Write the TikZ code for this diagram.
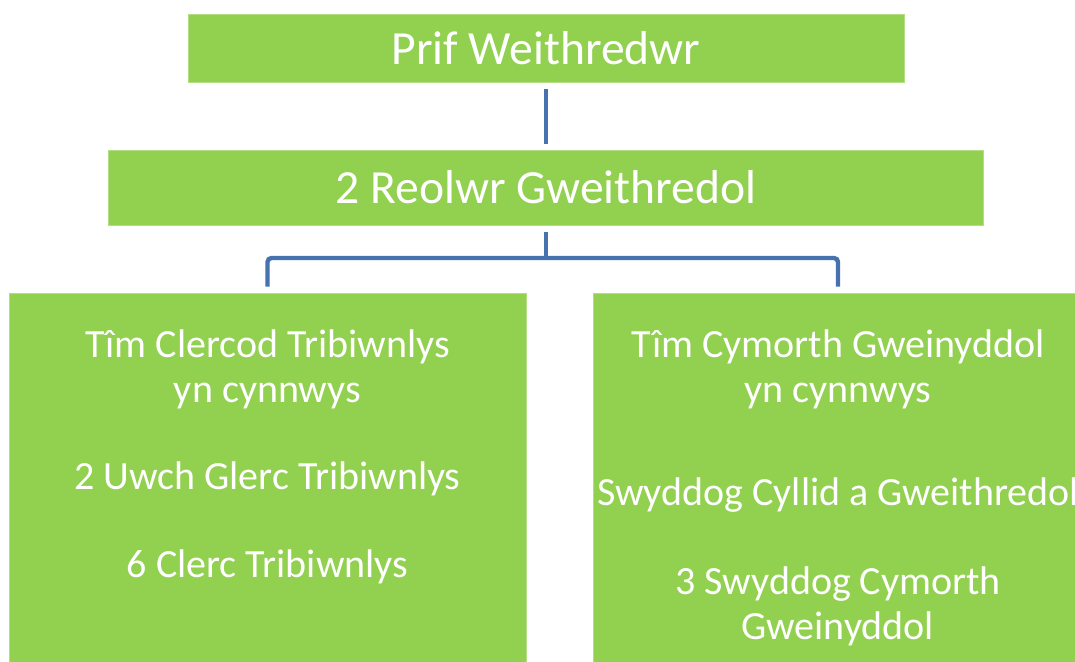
\documentclass[tikz,border=0pt]{standalone}
\usepackage{fontspec}
\setmainfont{Carlito}
\definecolor{boxgreen}{HTML}{92D050}
\definecolor{linkblue}{HTML}{4672AE}
\begin{document}
\begin{tikzpicture}[x=1pt, y=-1pt,
    leitung/.style={rectangle, fill=boxgreen, draw=boxgreen!70!white, line width=1pt, text=white, font=\fontsize{47.6}{56}\selectfont, inner sep=0pt},
    team/.style={rectangle, fill=boxgreen, draw=boxgreen!70!white, line width=1pt, inner sep=0pt},
    teamtext/.style={text=white, font=\fontsize{40}{45}\selectfont, inner sep=0pt, anchor=base},
    verbindung/.style={draw=linkblue, line width=4.4pt, rounded corners=4pt, shorten <=6pt, shorten >=6pt}]
    \useasboundingbox (0,0) rectangle (1075,661);
    \clip (0,0) rectangle (1075,661);

    \node (prif) [leitung, minimum width=716pt, minimum height=67pt] at (546, 48.5) {Prif Weithredwr};
    \node (reolwr) [leitung, minimum width=875pt, minimum height=75pt] at (546, 187.5) {2 Reolwr Gweithredol};
    \node (tribbox) [team, minimum width=517pt, minimum height=380pt] at (267.5, 483) {};
    \node (cymorthbox) [team, minimum width=490pt, minimum height=380pt] at (838, 483) {};
    \node (tribtext) [teamtext] at (267.5, 357) {\parbox[t]{540pt}{\centering
        Tîm Clercod Tribiwnlys\\yn cynnwys\\[42pt]2 Uwch Glerc Tribiwnlys\\[43pt]6 Clerc Tribiwnlys}};
    \node (cymorthtext) [teamtext] at (838, 357) {\parbox[t]{540pt}{\centering
        Tîm Cymorth Gweinyddol\\yn cynnwys\\[58pt]Swyddog Cyllid a Gweithredol\\[44pt]3 Swyddog Cymorth\\Gweinyddol}};
    \coordinate (split) at (546, 258);

    % Verbindungslinien
    \draw[verbindung] (prif) -- (reolwr);
    \draw[verbindung, shorten >=0pt] (reolwr.south) -- (split);
    \draw[verbindung, shorten <=0pt] (split) -| (tribbox.north);
    \draw[verbindung, shorten <=0pt] (split) -| (cymorthbox.north);
\end{tikzpicture}
\end{document}
